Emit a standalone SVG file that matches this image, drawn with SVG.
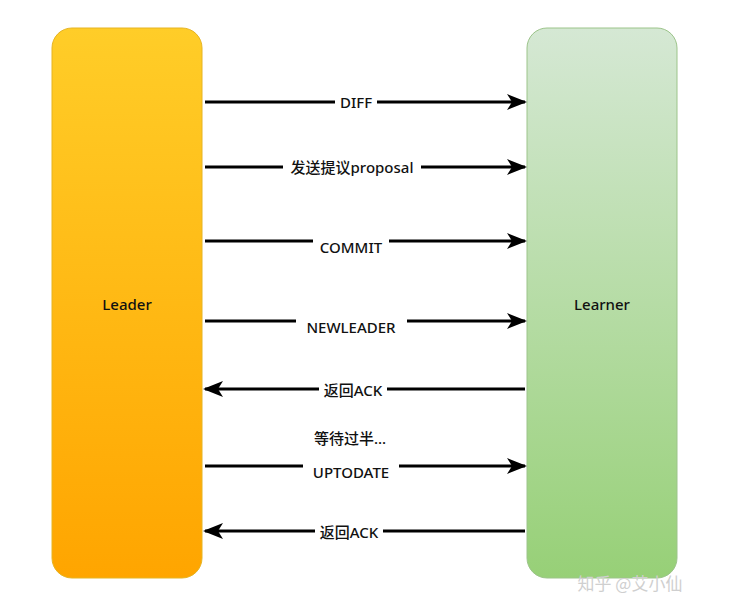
<svg xmlns="http://www.w3.org/2000/svg" width="733" height="609" viewBox="0 0 733 609">
<defs>
<linearGradient id="gLeader" x1="0" y1="0" x2="0" y2="1">
<stop offset="0" stop-color="#FFCD28"/>
<stop offset="1" stop-color="#FFA500"/>
</linearGradient>
<linearGradient id="gLearner" x1="0" y1="0" x2="0" y2="1">
<stop offset="0" stop-color="#D5E8D4"/>
<stop offset="1" stop-color="#97D077"/>
</linearGradient>
<marker id="arr" viewBox="0 0 20 20" refX="18" refY="10" markerWidth="20" markerHeight="20" markerUnits="userSpaceOnUse" orient="auto">
<path d="M0,2 L20,10 L0,18 L5,10 Z" fill="#000"/>
</marker>
<style>
.lbl{font-family:"Comic Sans MS","Noto Sans","Noto Sans CJK SC",sans-serif;font-size:15px;font-weight:500;fill:#111;text-anchor:middle;dominant-baseline:central}
.bg{fill:#fff}
.ln{stroke:#000;stroke-width:3;fill:none;marker-end:url(#arr)}
</style>
</defs>
<rect width="733" height="609" fill="#fff"/>
<g id="leader">
<rect x="52" y="28" width="150" height="550" rx="20" fill="url(#gLeader)" stroke="#E6B422" stroke-width="1"/>
<text class="lbl" x="127" y="304">Leader</text>
</g>
<g id="learner">
<rect x="527" y="28" width="150" height="550" rx="20" fill="url(#gLearner)" stroke="#9CC48A" stroke-width="1"/>
<text class="lbl" x="602" y="304">Learner</text>
</g>
<g id="connectors">
<line class="ln" x1="205" y1="102" x2="525" y2="102"/>
<rect class="bg" x="335" y="92" width="42" height="20"/>
<text class="lbl" x="356" y="102">DIFF</text>
<line class="ln" x1="205" y1="167" x2="525" y2="167"/>
<rect class="bg" x="283" y="157" width="138" height="20"/>
<text class="lbl" x="352" y="167">发送提议proposal</text>
<line class="ln" x1="205" y1="241" x2="525" y2="241"/>
<rect class="bg" x="313" y="238" width="76" height="19"/>
<text class="lbl" x="351" y="247">COMMIT</text>
<line class="ln" x1="205" y1="321" x2="525" y2="321"/>
<rect class="bg" x="296" y="318" width="111" height="19"/>
<text class="lbl" x="351" y="327">NEWLEADER</text>
<line class="ln" x1="525" y1="389" x2="205" y2="389"/>
<rect class="bg" x="319" y="380" width="68" height="20"/>
<text class="lbl" x="353" y="390">返回ACK</text>
<text class="lbl" x="350" y="438">等待过半...</text>
<line class="ln" x1="205" y1="466" x2="525" y2="466"/>
<rect class="bg" x="303" y="463" width="96" height="19"/>
<text class="lbl" x="351" y="472">UPTODATE</text>
<line class="ln" x1="525" y1="531" x2="205" y2="531"/>
<rect class="bg" x="315" y="522" width="68" height="20"/>
<text class="lbl" x="349" y="532">返回ACK</text>
</g>
<text x="630" y="590" font-family="Noto Sans CJK SC, sans-serif" font-size="17" fill="#cfcfcf" text-anchor="middle">知乎 @艾小仙</text>
</svg>
